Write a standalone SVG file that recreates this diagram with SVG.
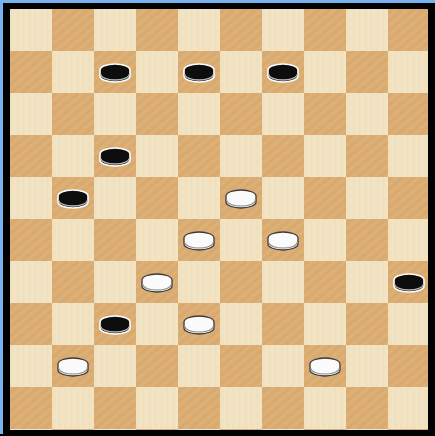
<svg xmlns="http://www.w3.org/2000/svg" width="435" height="436" viewBox="0 0 435 436">
<style>
.bbody{fill:#0d0d0d;stroke:#ffffff;stroke-width:1.6}
.bline{fill:none;stroke:#b8b8b8;stroke-width:1.3}
.wbody{fill:#fbfbfb;stroke:#3a3a3a;stroke-width:1.3}
.wline{fill:none;stroke:#8a8a8a;stroke-width:1.1}
</style>
<defs>
<pattern id="grainL" width="6" height="42" patternUnits="userSpaceOnUse">
<rect width="6" height="42" fill="#f1e2c2"/>
<path d="M1.5,0 V42" stroke="#e9d7b2" stroke-width="0.8" opacity="0.4"/>
<path d="M4.5,0 V42" stroke="#f6ead0" stroke-width="0.8" opacity="0.5"/>
</pattern>
<pattern id="grainD" width="7" height="7" patternUnits="userSpaceOnUse" patternTransform="rotate(-40)">
<rect width="7" height="7" fill="#dbad73"/>
<path d="M0,2 H7" stroke="#d2a064" stroke-width="1.2" opacity="0.5"/>
<path d="M0,5 H7" stroke="#e2b985" stroke-width="1" opacity="0.5"/>
</pattern>
<pattern id="board" x="10" y="9" width="84" height="84" patternUnits="userSpaceOnUse">
<rect width="84" height="84" fill="url(#grainL)"/>
<rect x="42" y="0" width="42" height="42" fill="url(#grainD)"/>
<rect x="0" y="42" width="42" height="42" fill="url(#grainD)"/>
</pattern>
<g id="bp">
<path class="bbody" d="M-15,-3 A15,6 0 0 1 15,-3 L15,3 A15,6 0 0 1 -15,3 Z"/>
<path class="bline" d="M-14,1.5 A14,5.5 0 0 0 14,1.5"/>
</g>
<g id="wp">
<path class="wbody" d="M-15,-3 A15,6 0 0 1 15,-3 L15,3 A15,6 0 0 1 -15,3 Z"/>
<path class="wline" d="M-14,1.5 A14,5.5 0 0 0 14,1.5"/>
</g>
</defs>
<rect x="0" y="0" width="435" height="436" fill="#000000"/>
<rect x="0" y="0" width="435" height="3" fill="#78b3ef"/>
<rect x="0" y="0" width="3" height="434" fill="#78b3ef"/>
<rect id="board-squares" x="10" y="9" width="418" height="421" fill="url(#board)"/>
<g id="pieces">
<g id="b1"><use href="#bp" x="115" y="73"/></g>
<g id="b2"><use href="#bp" x="199" y="73"/></g>
<g id="b3"><use href="#bp" x="283" y="73"/></g>
<g id="b4"><use href="#bp" x="115" y="157"/></g>
<g id="b5"><use href="#bp" x="73" y="199"/></g>
<g id="b6"><use href="#bp" x="409" y="283"/></g>
<g id="b7"><use href="#bp" x="115" y="325"/></g>
<g id="w1"><use href="#wp" x="241" y="199"/></g>
<g id="w2"><use href="#wp" x="199" y="241"/></g>
<g id="w3"><use href="#wp" x="283" y="241"/></g>
<g id="w4"><use href="#wp" x="157" y="283"/></g>
<g id="w5"><use href="#wp" x="199" y="325"/></g>
<g id="w6"><use href="#wp" x="73" y="367"/></g>
<g id="w7"><use href="#wp" x="325" y="367"/></g>
</g>
</svg>
